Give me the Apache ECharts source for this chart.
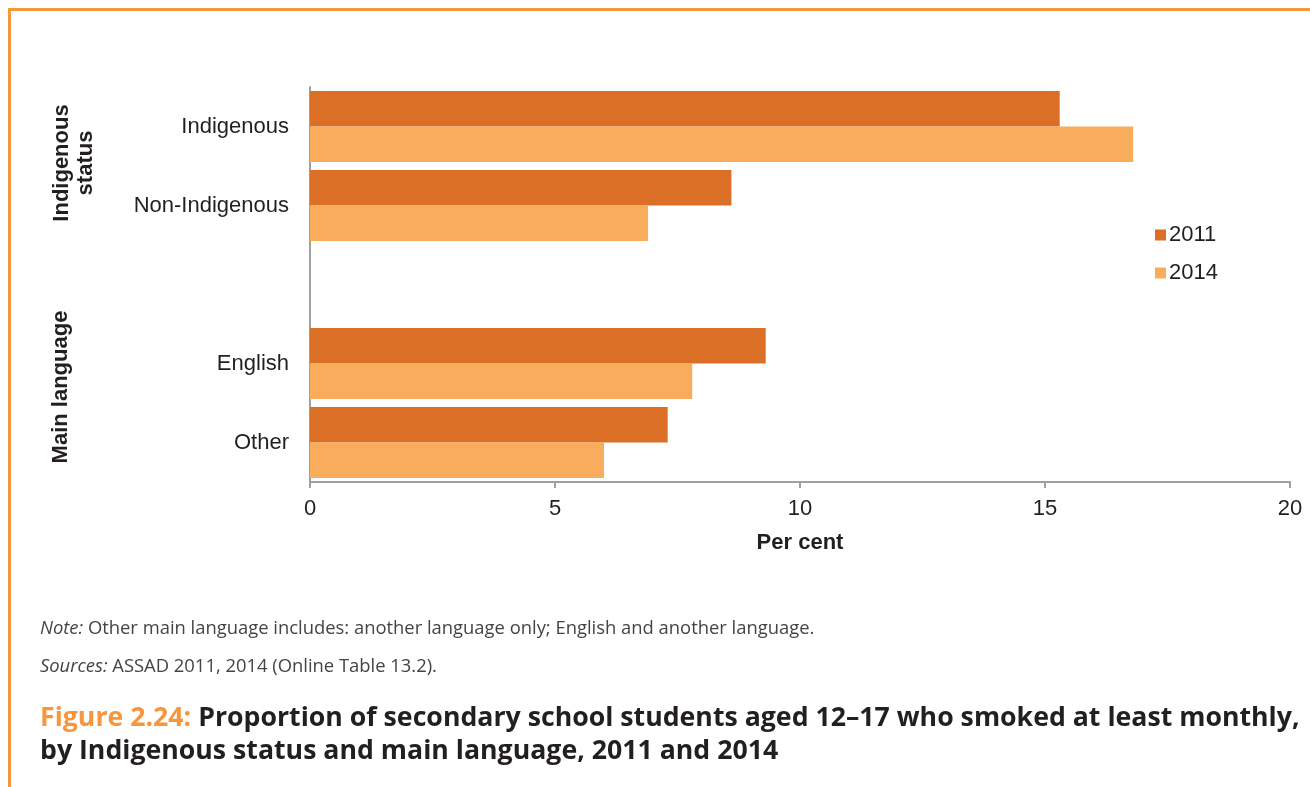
<!DOCTYPE html>
<html><head><meta charset="utf-8">
<script src="https://cdn.jsdelivr.net/npm/echarts@6/dist/echarts.min.js"></script>
<style>html,body{margin:0;padding:0;background:#fff}#c{width:1310px;height:787px}</style>
</head><body><div id="c"></div>
<script>
const categories = ['Indigenous', 'Non-Indigenous', '', 'English', 'Other'];
const seriesNames = ['2011', '2014'];
const values2011 = [15.3, 8.6, null, 9.3, 7.3];
const values2014 = [16.8, 6.9, null, 7.8, 6.0];
const xTicks = [0, 5, 10, 15, 20];

const chart = echarts.init(document.getElementById('c'), null, {renderer: 'canvas'});
const axisFont = 'Liberation Sans, Arial, sans-serif';
const noteFont = '"Open Sans", "Noto Sans", sans-serif';
chart.setOption({
  animation: false,
  backgroundColor: '#fff',
  grid: {left: 310, right: 20, top: 87, bottom: 305, containLabel: false},
  legend: {
    orient: 'vertical', left: 1150, top: 219,
    itemWidth: 11, itemHeight: 11, itemGap: 16,
    icon: 'rect',
    textStyle: {fontFamily: axisFont, fontSize: 22, color: '#231f20', padding: [0,0,0,-2]},
    data: seriesNames
  },
  xAxis: {
    type: 'value', min: xTicks[0], max: xTicks[xTicks.length-1], interval: 5,
    name: 'Per cent', nameLocation: 'middle', nameGap: 50,
    nameTextStyle: {fontFamily: axisFont, fontSize: 22, fontWeight: 'bold', color: '#231f20'},
    axisLine: {show: true, lineStyle: {color: '#a0a0a0', width: 2}},
    axisTick: {show: true, length: 6, lineStyle: {color: '#a0a0a0', width: 2}},
    axisLabel: {fontFamily: axisFont, fontSize: 22, color: '#231f20', margin: 16},
    splitLine: {show: false}
  },
  yAxis: {
    type: 'category', data: categories, inverse: true,
    axisLine: {show: true, lineStyle: {color: '#a0a0a0', width: 2}},
    axisTick: {show: false},
    axisLabel: {fontFamily: axisFont, fontSize: 22, color: '#231f20', margin: 21}
  },
  series: [
    {name: seriesNames[0], type: 'bar', data: values2011, barGap: '0%', barCategoryGap: '10%',
     itemStyle: {color: '#db6f26'}},
    {name: seriesNames[1], type: 'bar', data: values2014, barGap: '0%', barCategoryGap: '10%',
     itemStyle: {color: '#f8ac5c'}}
  ],
  graphic: [
    {type: 'rect', shape: {x: 8, y: 8, width: 1310, height: 3}, style: {fill: '#f7993a'}},
    {type: 'rect', shape: {x: 8, y: 8, width: 3, height: 800}, style: {fill: '#f7993a'}},
    {type: 'text', x: 74, y: 163, rotation: Math.PI/2,
     style: {text: 'Indigenous\nstatus', fontFamily: axisFont, fontSize: 22, fontWeight: 'bold',
             fill: '#231f20', align: 'center', verticalAlign: 'middle', lineHeight: 24}},
    {type: 'text', x: 61, y: 387, rotation: Math.PI/2,
     style: {text: 'Main language', fontFamily: axisFont, fontSize: 22, fontWeight: 'bold',
             fill: '#231f20', align: 'center', verticalAlign: 'middle'}},
    {type: 'text', x: 40, y: 629,
     style: {text: '{i|Note:} Other main language includes: another language only; English and another language.',
             verticalAlign: 'middle', fontFamily: noteFont, fontSize: 18.4, fill: '#444',
             rich: {i: {fontStyle: 'italic', fontFamily: noteFont, fontSize: 18.4, fill: '#444'}}}},
    {type: 'text', x: 40, y: 667,
     style: {text: '{i|Sources:} ASSAD 2011, 2014 (Online Table 13.2).',
             verticalAlign: 'middle', fontFamily: noteFont, fontSize: 18.4, fill: '#444',
             rich: {i: {fontStyle: 'italic', fontFamily: noteFont, fontSize: 18.4, fill: '#444'}}}},
    {type: 'text', x: 40, y: 718,
     style: {text: '{o|Figure 2.24:} Proportion of secondary school students aged 12–17 who smoked at least monthly,',
             verticalAlign: 'middle', fontFamily: noteFont, fontSize: 26.7, fontWeight: 'bold', fill: '#231f20',
             rich: {o: {fontFamily: noteFont, fontSize: 26.7, fontWeight: 'bold', fill: '#f7963c'}}}},
    {type: 'text', x: 40, y: 751,
     style: {text: 'by Indigenous status and main language, 2011 and 2014',
             verticalAlign: 'middle', fontFamily: noteFont, fontSize: 26.7, fontWeight: 'bold', fill: '#231f20'}}
  ]
});
</script></body></html>
